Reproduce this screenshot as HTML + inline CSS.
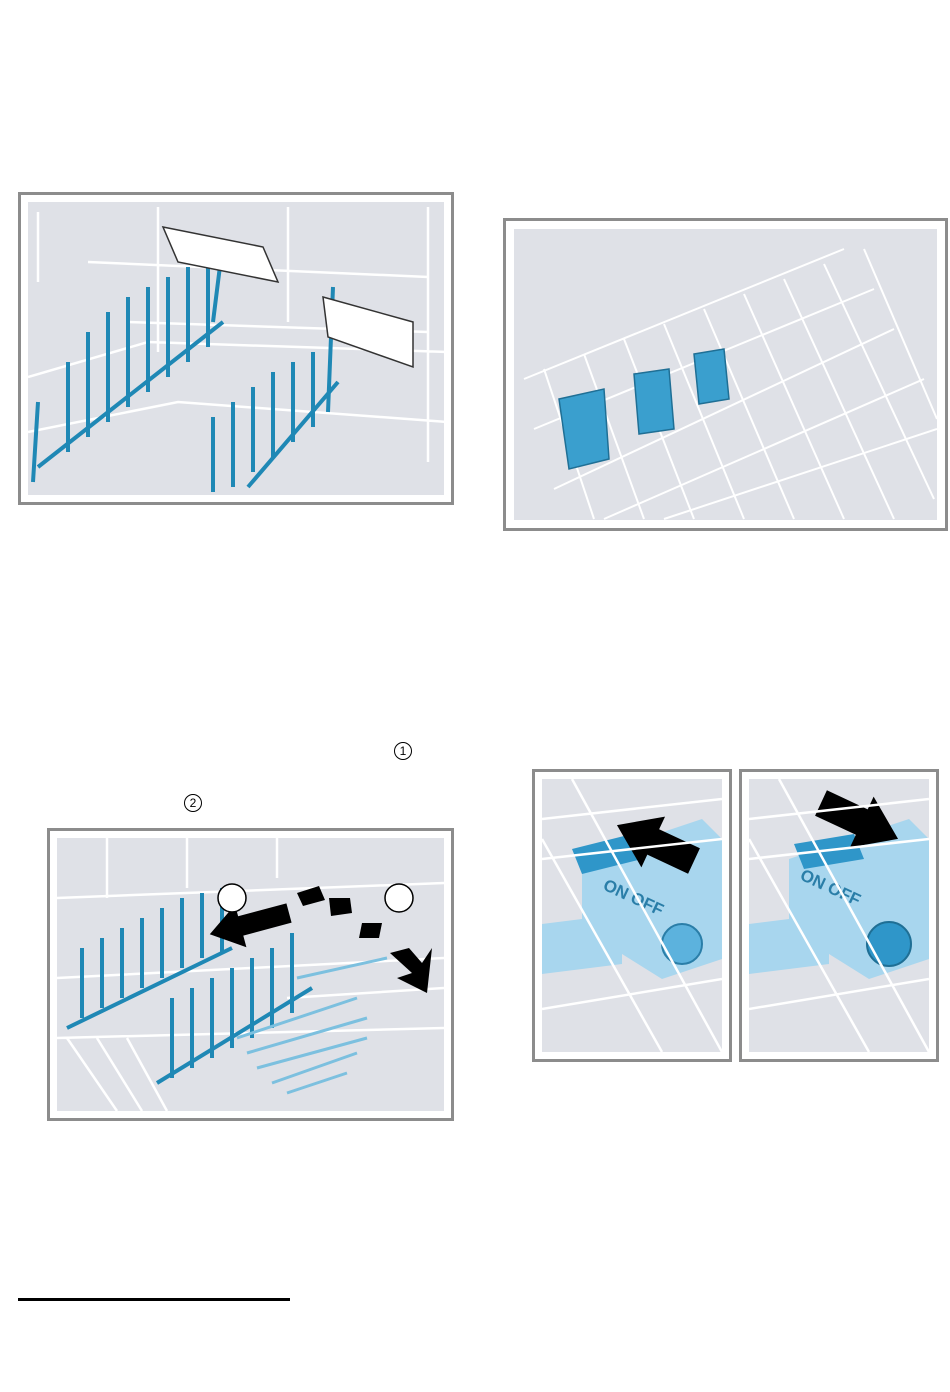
<!DOCTYPE html>
<html><head><meta charset="utf-8"><style>
html,body{margin:0;padding:0;background:#fff}
body{width:950px;height:1392px;position:relative;overflow:hidden;font-family:"Liberation Sans",sans-serif}
.box{position:absolute;border:3px solid #8c8c8c;background:#fff;box-sizing:border-box}
.in{position:absolute;background:#dfe1e7;overflow:hidden}
svg{position:absolute;left:0;top:0}
.c{position:absolute;width:16px;height:16px;border:1.3px solid #000;border-radius:50%;font-size:12px;line-height:16px;text-align:center}
</style></head><body>

<div class="box" style="left:18px;top:192px;width:436px;height:313px">
 <div class="in" style="left:7px;top:7px;width:416px;height:293px">
  <svg width="416" height="293" stroke="#fff" stroke-width="2.5" fill="none">
   <path d="M10 10V80M130 5V150M260 5V120M400 5V260M0 175L120 140L420 150M0 230L150 200L420 220M60 60L400 75M100 120L400 130"/>
   <g stroke="#1f88b5" stroke-width="4">
    <path d="M10 265L195 120M220 285L310 180"/>
    <path d="M40 250V160M60 235V130M80 220V110M100 205V95M120 190V85M140 175V75M160 160V65M180 145V55M185 120L195 40"/>
    <path d="M185 290V215M205 285V200M225 270V185M245 255V170M265 240V160M285 225V150M300 210L305 85"/>
    <path d="M5 280L10 200"/>
   </g>
   <g fill="#fff" stroke="#333" stroke-width="1.5">
    <path d="M135 25L235 45L250 80L150 60Z"/><path d="M295 95L385 120L385 165L300 135Z"/>
   </g>
  </svg>
 </div>
</div>

<div class="box" style="left:503px;top:218px;width:445px;height:313px">
 <div class="in" style="left:8px;top:8px;width:423px;height:291px">
  <svg width="423" height="291" stroke="#fff" stroke-width="2" fill="none">
   <g><path d="M10 150L330 20M20 200L360 60M40 260L380 100M90 290L410 150M150 290L423 200"/>
   <path d="M30 140L80 290M70 125L130 290M110 110L180 290M150 95L230 290M190 80L280 290M230 65L330 290M270 50L380 290M310 35L420 270M350 20L423 190"/></g>
   <g fill="#3a9fce" stroke="#1f6f95" stroke-width="1.5">
    <path d="M45 170L90 160L95 230L55 240Z"/><path d="M120 145L155 140L160 200L125 205Z"/><path d="M180 125L210 120L215 170L185 175Z"/>
   </g>
  </svg>
 </div>
</div>

<div class="c" style="left:394px;top:742px">1</div>
<div class="c" style="left:184px;top:794px">2</div>

<div class="box" style="left:47px;top:828px;width:407px;height:293px">
 <div class="in" style="left:7px;top:7px;width:387px;height:273px">
  <svg width="387" height="273" stroke="#fff" stroke-width="2.5" fill="none">
   <path d="M50 0V60M130 0V50M220 0V40M0 60L387 45M0 140L387 120M0 200L387 190M230 160L387 150M10 200L60 273M40 200L85 273M70 200L110 273"/>
   <g stroke="#1f88b5" stroke-width="4">
    <path d="M10 190L175 110M100 245L255 150"/>
    <path d="M25 180V110M45 170V100M65 160V90M85 150V80M105 140V70M125 130V60M145 120V55M165 115V50"/>
    <path d="M115 240V160M135 230V150M155 220V140M175 210V130M195 200V120M215 190V110M235 175V95"/>
   </g>
   <g stroke="#7cc0df" stroke-width="3"><path d="M180 200L300 160M190 215L310 180M200 230L310 200M215 245L300 215M230 255L290 235M240 140L330 120"/></g>
   <g fill="#000" stroke="none">
    <path transform="translate(232,75) rotate(165)" d="M0 -10L50 -10L50 -22L82 0L50 22L50 10L0 10Z"/>
    <path d="M240 55L262 48L268 62L246 68Z"/><path d="M272 60L293 60L295 75L274 78Z"/><path d="M305 85L325 85L322 100L302 100Z"/>
    <path d="M333 115L352 110L365 125L375 110L370 155L340 140L355 135Z"/>
   </g>
   <circle cx="175" cy="60" r="14" fill="#fff" stroke="#000" stroke-width="1.5"/>
   <circle cx="342" cy="60" r="14" fill="#fff" stroke="#000" stroke-width="1.5"/>
  </svg>
 </div>
</div>

<div class="box" style="left:532px;top:769px;width:200px;height:293px">
 <div class="in" style="left:7px;top:7px;width:180px;height:273px">
  <svg width="180" height="273" fill="none">
   <path d="M0 145L80 135L80 185L0 195Z" fill="#a8d6ee"/>
   <path d="M40 80L160 40L180 60L180 180L120 200L40 150Z" fill="#a8d6ee"/>
   <circle cx="140" cy="165" r="20" fill="#5cb2dd" stroke="#2a7ea8" stroke-width="2"/>
   <path d="M30 70L90 55L100 80L40 95Z" fill="#2f96c9"/>
   <text x="60" y="110" font-family="Liberation Sans" font-weight="bold" font-size="17" fill="#2a7ea8" transform="rotate(25 60 110)">ON OFF</text>
   <path transform="translate(152,82) rotate(-155)" d="M0 -14L45 -14L45 -28L85 0L45 28L45 14L0 14Z" fill="#000"/>
   <g stroke="#fff" stroke-width="2.5"><path d="M0 40L180 20M0 80L180 60M0 230L180 200M30 0L180 273M0 60L120 273"/></g>
  </svg>
 </div>
</div>

<div class="box" style="left:739px;top:769px;width:200px;height:293px">
 <div class="in" style="left:7px;top:7px;width:180px;height:273px">
  <svg width="180" height="273" fill="none">
   <path d="M0 145L80 135L80 185L0 195Z" fill="#a8d6ee"/>
   <path d="M40 80L160 40L180 60L180 180L120 200L40 150Z" fill="#a8d6ee"/>
   <circle cx="140" cy="165" r="22" fill="#2f96c9" stroke="#1f6f95" stroke-width="2"/>
   <path d="M45 65L105 55L115 80L55 90Z" fill="#2f96c9"/>
   <text x="50" y="100" font-family="Liberation Sans" font-weight="bold" font-size="17" fill="#2a7ea8" transform="rotate(25 50 100)">ON OFF</text>
   <path transform="translate(72,24) rotate(25)" d="M0 -14L45 -14L45 -28L85 0L45 28L45 14L0 14Z" fill="#000"/>
   <g stroke="#fff" stroke-width="2.5"><path d="M0 40L180 20M0 80L180 60M0 230L180 200M30 0L180 273M0 60L120 273"/></g>
  </svg>
 </div>
</div>

<div style="position:absolute;left:18px;top:1298px;width:272px;height:3px;background:#000"></div>
</body></html>
